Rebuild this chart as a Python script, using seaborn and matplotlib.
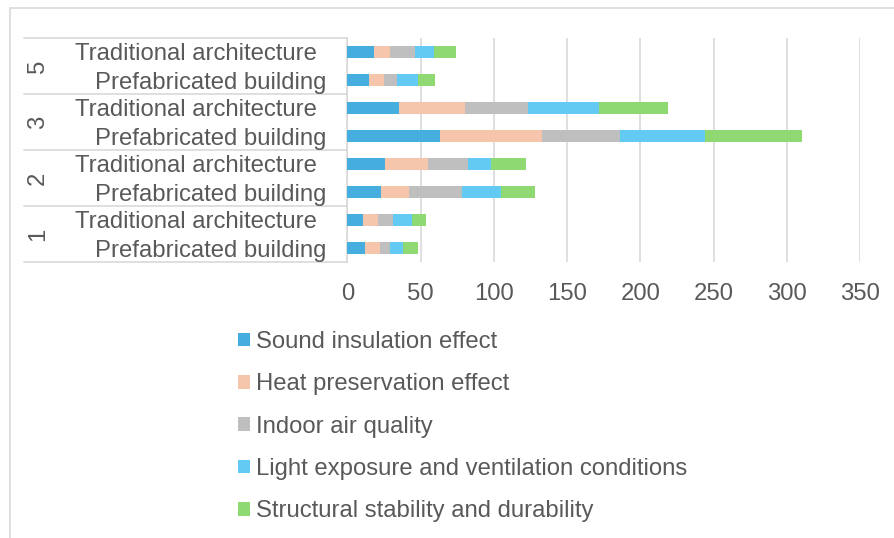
import matplotlib
matplotlib.use("Agg")
import matplotlib.pyplot as plt
import matplotlib.transforms as mtransforms
from matplotlib.lines import Line2D
from matplotlib.patches import Rectangle
import seaborn as sns
import pandas as pd
import numpy as np

# Survey groups (top to bottom) and building types within each group
groups = ["5", "3", "2", "1"]
building_types = ["Traditional architecture", "Prefabricated building"]

criteria = [
    "Sound insulation effect",
    "Heat preservation effect",
    "Indoor air quality",
    "Light exposure and ventilation conditions",
    "Structural stability and durability",
]

# Scores per row, rows ordered: 5-Trad, 5-Prefab, 3-Trad, 3-Prefab, 2-Trad, 2-Prefab, 1-Trad, 1-Prefab
sound_insulation = [18, 15, 35, 63, 26, 23, 11, 12]
heat_preservation = [11, 10, 45, 70, 29, 19, 10, 10]
indoor_air = [17, 9, 43, 53, 27, 36, 10, 7]
light_ventilation = [13, 14, 49, 58, 16, 27, 13, 9]
structural_stability = [15, 12, 47, 66, 24, 23, 10, 10]

x_ticks = [0, 50, 100, 150, 200, 250, 300, 350]

colors = ["#45AEDE", "#F5C6AC", "#BFBFBF", "#62CAF3", "#8FD973"]
text_color = "#595959"
grid_color = "#D9D9D9"
fs = 17.2

series = [sound_insulation, heat_preservation, indoor_air,
          light_ventilation, structural_stability]

row_keys = [f"{g}|{b}" for g in groups for b in building_types]
df = pd.DataFrame({"row": row_keys})
for name, vals in zip(criteria, series):
    df[name] = vals
# cumulative totals for stacking
cum = np.cumsum(np.array(series), axis=0)
for i in range(len(criteria)):
    df[f"cum{i}"] = cum[i]

sns.set_theme(style="white")
plt.rcParams["font.family"] = ["Liberation Sans", "DejaVu Sans"]

W, H = 895, 538
fig = plt.figure(figsize=(W / 100, H / 100), dpi=100)
left_px, right_px, top_px, bottom_px = 347.3, 860.4, 38, 262
ax = fig.add_axes([left_px / W, 1 - bottom_px / H,
                   (right_px - left_px) / W, (bottom_px - top_px) / H])

# stacked bars: draw cumulative totals from the outermost segment inwards
for i in reversed(range(len(criteria))):
    sns.barplot(data=df, x=f"cum{i}", y="row", order=row_keys, orient="h",
                color=colors[i], saturation=1, width=0.4, linewidth=0,
                ax=ax, zorder=3)

ax.set_xlim(0, 350)
ax.set_ylim(len(row_keys) - 0.5, -0.5)
ax.set_xticks(x_ticks)
ax.set_xticklabels([str(t) for t in x_ticks])
ax.set_xlabel("")
ax.set_ylabel("")
ax.grid(axis="x", color=grid_color, linewidth=1.2, zorder=0)
ax.grid(axis="y", visible=False)
ax.set_axisbelow(True)
for side in ["top", "right", "bottom"]:
    ax.spines[side].set_visible(False)
ax.spines["left"].set_color(grid_color)
ax.spines["left"].set_linewidth(1.2)

ax.set_yticks(range(len(row_keys)))
ax.set_yticklabels([])
ax.tick_params(axis="y", length=0)
ax.tick_params(axis="x", length=0, pad=15, labelsize=fs, labelcolor=text_color)

# multi-level category axis: group separators, building-type labels, group labels
trans = mtransforms.blended_transform_factory(fig.transFigure, ax.transData)
label_right = {"Traditional architecture": 317 / W, "Prefabricated building": 326 / W}
for yi, key in enumerate(row_keys):
    name = key.split("|")[1]
    fig.text(label_right[name], yi, name, transform=trans, ha="right",
             va="center_baseline", fontsize=fs, color=text_color)

sep_x0 = 24 / W
sep_x1 = left_px / W
for y in [-0.5, 1.5, 3.5, 5.5, 7.5]:
    fig.add_artist(Line2D([sep_x0, sep_x1], [y, y], transform=trans,
                          color=grid_color, linewidth=1.2))
for gi, g in enumerate(groups):
    fig.text(38 / W, gi * 2 + 0.5, g, transform=trans, rotation=90,
             ha="center", va="center", fontsize=fs, color=text_color)

# outer chart frame
fig.add_artist(Rectangle((10 / W, -0.1), 1.2, (H - 8) / H + 0.1,
                         transform=fig.transFigure, fill=False,
                         edgecolor=grid_color, linewidth=1.2))

handles = [Rectangle((0, 0), 1, 1, facecolor=c, edgecolor="none") for c in colors]
fig.legend(handles, criteria, loc="upper left",
           bbox_to_anchor=(238 / W, 1 - 331 / H), frameon=False,
           fontsize=fs, labelcolor=text_color, handlelength=0.5,
           handleheight=0.5, handletextpad=0.25, labelspacing=0.85,
           borderaxespad=0, borderpad=0)

fig.savefig("out.png", dpi=100)
